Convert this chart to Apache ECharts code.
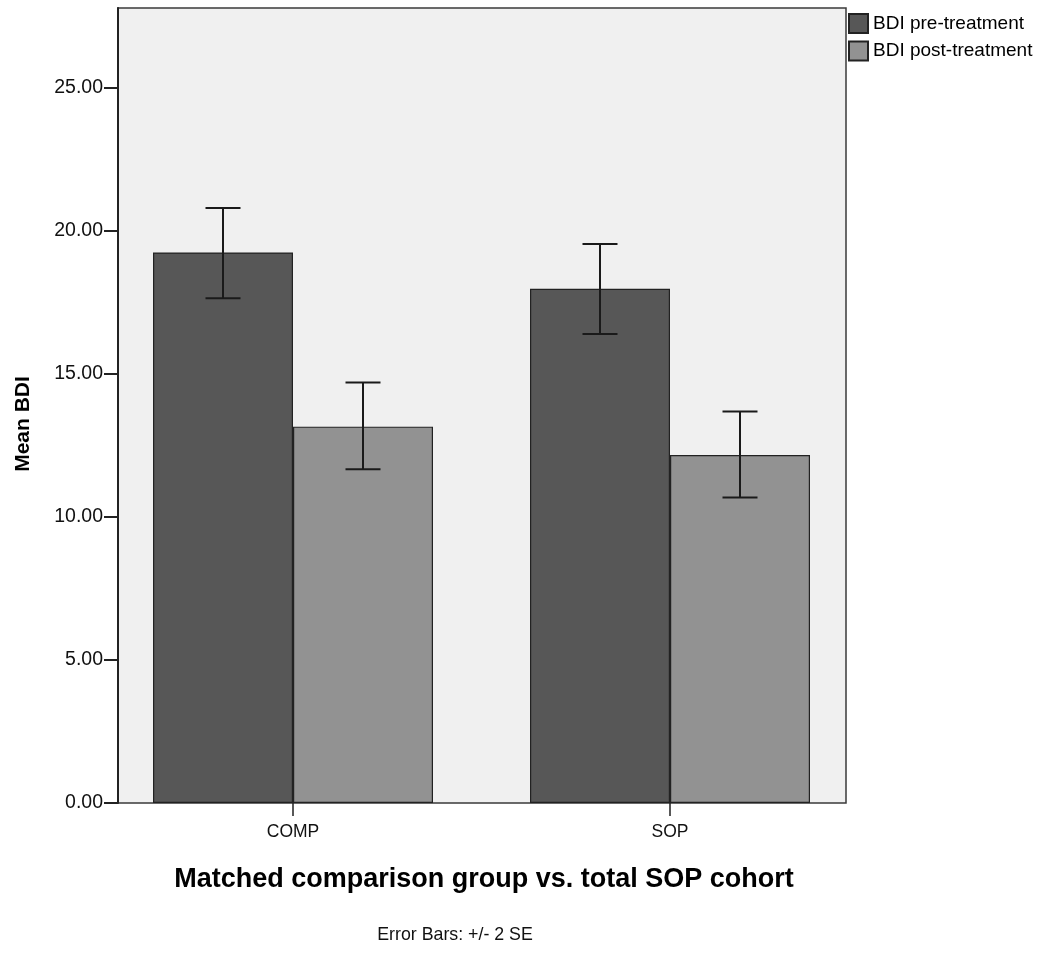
<!DOCTYPE html>
<html>
<head>
<meta charset="utf-8">
<script src="https://cdn.jsdelivr.net/npm/echarts@6/dist/echarts.min.js"></script>
<style>
html,body{margin:0;padding:0;background:#fff;}
#chart{width:1044px;height:953px;}
</style>
</head>
<body>
<div id="chart"></div>
<script>
const categories = ['COMP', 'SOP'];
const seriesNames = ['BDI pre-treatment', 'BDI post-treatment'];
const preMeans = [19.25, 17.98];
const postMeans = [13.16, 12.17];
const preLow = [17.65, 16.40];
const preHigh = [20.81, 19.55];
const postLow = [11.67, 10.68];
const postHigh = [14.70, 13.69];
const yTicks = { min: 0, max: 27.8, interval: 5 };
const xTitle = 'Matched comparison group vs. total SOP cohort';
const yTitle = 'Mean BDI';
const note = 'Error Bars: +/- 2 SE';

const FONT = '"Liberation Sans", Arial, sans-serif';
const BAR_W = 140;
const colors = ['#575757', '#929292'];

function errSeries(lows, highs, idx) {
  const data = categories.map((c, i) => [i, lows[i], highs[i]]);
  return {
    type: 'custom',
    xAxisIndex: 1, yAxisIndex: 1,
    z: 5,
    data: data,
    renderItem: function (params, api) {
      const off = (idx === 0 ? -1 : 1) * BAR_W / 2;
      const lo = api.coord([api.value(0), api.value(1)]);
      const hi = api.coord([api.value(0), api.value(2)]);
      const x = lo[0] + off;
      const cap = 17.5;
      const style = { stroke: '#1a1a1a', lineWidth: 2 };
      return {
        type: 'group',
        children: [
          { type: 'line', shape: { x1: x, y1: lo[1], x2: x, y2: hi[1] }, style: style },
          { type: 'line', shape: { x1: x - cap, y1: lo[1], x2: x + cap, y2: lo[1] }, style: style },
          { type: 'line', shape: { x1: x - cap, y1: hi[1], x2: x + cap, y2: hi[1] }, style: style }
        ]
      };
    }
  };
}

const chart = echarts.init(document.getElementById('chart'), null, { renderer: 'canvas' });
chart.setOption({
  animation: false,
  backgroundColor: '#ffffff',
  textStyle: { fontFamily: FONT },
  grid: [
    { left: 118, right: 198, top: 8, bottom: 150, show: true, backgroundColor: '#f0f0f0', borderColor: '#3a3a3a', borderWidth: 1.5, z: 0 },
    { left: 104.5, right: 185.5, top: 8, bottom: 150, show: false }
  ],
  legend: {
    orient: 'vertical',
    left: 848, top: 13,
    padding: 0,
    itemWidth: 19, itemHeight: 19, itemGap: 6.5,
    icon: 'rect',
    textStyle: { fontFamily: FONT, fontSize: 19, color: '#000' },
    data: seriesNames
  },
  xAxis: [
    { type: 'category', gridIndex: 0, show: false, data: categories },
    {
      type: 'category', gridIndex: 1, data: categories,
      axisLine: { show: false },
      axisTick: { show: true, alignWithLabel: true, length: 13, lineStyle: { color: '#222', width: 1.5 } },
      axisLabel: { fontFamily: FONT, fontSize: 17.5, color: '#111', margin: 20 },
      splitLine: { show: false }
    }
  ],
  yAxis: [
    {
      type: 'value', gridIndex: 0,
      min: yTicks.min, max: yTicks.max, interval: yTicks.interval,
      axisLine: { show: true, lineStyle: { color: '#222', width: 2 } },
      axisTick: { show: true, length: 14, lineStyle: { color: '#222', width: 2 } },
      axisLabel: { fontFamily: FONT, fontSize: 19.5, color: '#111', margin: 15, showMaxLabel: false,
        formatter: v => v.toFixed(2) },
      splitLine: { show: false }
    },
    { type: 'value', gridIndex: 1, min: yTicks.min, max: yTicks.max, interval: yTicks.interval, show: false, splitLine: { show: false } }
  ],
  series: [
    {
      name: seriesNames[0], type: 'bar', xAxisIndex: 1, yAxisIndex: 1,
      data: preMeans, barWidth: BAR_W, barGap: '0%',
      itemStyle: { color: colors[0], borderColor: '#222', borderWidth: 1.2 }, z: 3
    },
    {
      name: seriesNames[1], type: 'bar', xAxisIndex: 1, yAxisIndex: 1,
      data: postMeans, barWidth: BAR_W, barGap: '0%',
      itemStyle: { color: colors[1], borderColor: '#222', borderWidth: 1.2 }, z: 3
    },
    errSeries(preLow, preHigh, 0),
    errSeries(postLow, postHigh, 1)
  ],
  graphic: [
    { type: 'text', style: { text: xTitle, fontFamily: FONT, fontSize: 27, fontWeight: 'bold', fill: '#000', textAlign: 'center', textVerticalAlign: 'middle' }, x: 484, y: 880 },
    { type: 'text', style: { text: note, fontFamily: FONT, fontSize: 17.8, fill: '#111', textAlign: 'center', textVerticalAlign: 'middle' }, x: 455, y: 935 },
    { type: 'text', style: { text: yTitle, fontFamily: FONT, fontSize: 21, fontWeight: 'bold', fill: '#000', textAlign: 'center', textVerticalAlign: 'middle' }, x: 23, y: 424, rotation: Math.PI / 2 }
  ]
});
</script>
</body>
</html>
